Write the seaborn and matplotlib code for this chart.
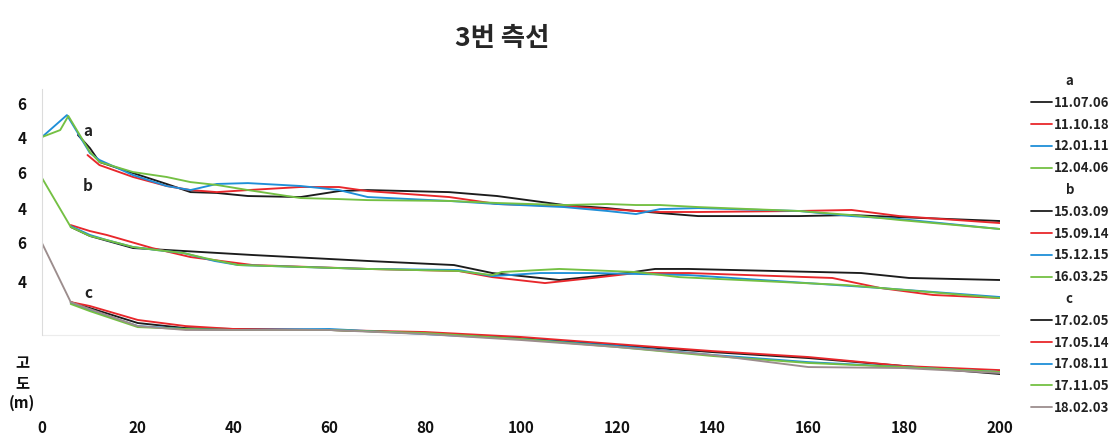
import numpy as np
import pandas as pd
import matplotlib
matplotlib.use("Agg")
import matplotlib.pyplot as plt
from matplotlib.lines import Line2D
import seaborn as sns

sns.set_theme(style="white")
plt.rcParams['font.family'] = ['Noto Sans CJK KR', 'DejaVu Sans']

title = "3번 측선"
y_label = "고\n도\n(m)"
x_ticks = [0, 20, 40, 60, 80, 100, 120, 140, 160, 180, 200]

# ---- group a (elevation, m) ----
a_names = ["11.07.06", "11.10.18", "12.01.11", "12.04.06"]
a_x = [
    [7.5, 10, 12, 19, 26, 31, 36.5, 43, 54, 62, 68, 85, 95, 109, 118, 124, 129, 137, 158, 169, 179, 200],
    [9.5, 12, 19, 26, 31, 36.5, 43, 54, 62, 68, 85, 95, 109, 118, 124, 129, 137, 158, 169, 179, 200],
    [0, 5.2, 10, 12, 19, 26, 31, 36.5, 43, 54, 62, 68, 85, 95, 109, 118, 124, 129, 137, 158, 169, 179, 200],
    [0, 3.8, 5.5, 10, 12, 19, 26, 31, 36.5, 43, 54, 62, 68, 85, 95, 109, 118, 124, 129, 137, 158, 169, 179, 200],
]
a_y = [
    [4.12, 3.35, 2.53, 1.88, 1.24, 0.76, 0.71, 0.53, 0.47, 0.82, 0.88, 0.76, 0.53, 0.00, -0.18, -0.35, -0.47, -0.65, -0.65, -0.59, -0.71, -0.94],
    [2.94, 2.35, 1.65, 1.12, 0.88, 0.76, 0.88, 1.06, 1.06, 0.82, 0.47, 0.06, -0.06, -0.24, -0.35, -0.41, -0.41, -0.35, -0.29, -0.65, -1.06],
    [4.00, 5.29, 3.06, 2.65, 1.76, 1.12, 0.88, 1.24, 1.29, 1.12, 0.88, 0.47, 0.24, 0.06, -0.12, -0.35, -0.53, -0.24, -0.18, -0.35, -0.65, -0.82, -1.41],
    [4.00, 4.41, 5.24, 3.12, 2.53, 1.94, 1.65, 1.35, 1.18, 0.88, 0.41, 0.35, 0.29, 0.24, 0.12, 0.00, 0.06, 0.00, 0.00, -0.12, -0.35, -0.59, -0.88, -1.41],
]

# ---- group b ----
b_names = ["15.03.09", "15.09.14", "15.12.15", "16.03.25"]
b_x = [
    [6, 10, 19, 44, 68, 86, 94, 108, 122, 128, 135, 171, 181, 200],
    [6, 10, 13.5, 23, 31, 44, 68, 87, 94, 105, 115, 124, 135, 165, 175, 186, 200],
    [6, 10, 13.5, 19, 24, 29.5, 36, 41, 68, 87, 94, 104, 115, 135, 175, 200],
    [0, 6, 10, 13.5, 19, 24, 29.5, 34, 41, 68, 87, 94, 96, 108, 124, 133, 168, 200],
]
b_y = [
    [2.77, 2.24, 1.53, 1.12, 0.77, 0.53, 0.06, -0.35, 0.06, 0.30, 0.30, 0.06, -0.23, -0.35],
    [2.88, 2.53, 2.30, 1.53, 1.00, 0.53, 0.30, 0.18, -0.18, -0.53, -0.23, 0.06, 0.06, -0.23, -0.82, -1.23, -1.41],
    [2.82, 2.30, 2.00, 1.59, 1.41, 1.24, 0.77, 0.53, 0.30, 0.24, -0.12, 0.06, 0.06, -0.06, -0.82, -1.35],
    [5.65, 2.77, 2.24, 2.00, 1.59, 1.41, 1.24, 0.94, 0.53, 0.30, 0.18, -0.06, 0.12, 0.30, 0.12, -0.18, -0.65, -1.41],
]

# ---- group c ----
c_names = ["17.02.05", "17.05.14", "17.08.11", "17.11.05", "18.02.03"]
c_x = [
    [6, 10, 20, 30, 40, 60, 80, 100, 120, 140, 160, 180, 200],
    [6, 10, 20, 30, 40, 60, 80, 100, 120, 140, 160, 180, 200],
    [6, 10, 20, 30, 40, 60, 80, 100, 120, 140, 160, 180, 200],
    [6, 10, 20, 30, 40, 60, 80, 100, 120, 140, 160, 180, 200],
    [0, 6, 10, 20, 30, 40, 60, 80, 100, 120, 140, 160, 180, 200],
]
c_y = [
    [2.49, 2.14, 1.26, 0.96, 0.91, 0.85, 0.67, 0.38, -0.04, -0.45, -0.80, -1.27, -1.74],
    [2.49, 2.26, 1.44, 1.08, 0.91, 0.85, 0.73, 0.44, 0.02, -0.39, -0.74, -1.27, -1.51],
    [2.44, 2.02, 1.08, 0.91, 0.85, 0.91, 0.61, 0.32, -0.09, -0.62, -1.04, -1.33, -1.62],
    [2.38, 1.96, 1.02, 0.91, 0.85, 0.85, 0.67, 0.32, -0.15, -0.68, -1.09, -1.33, -1.62],
    [5.96, 2.49, 2.08, 1.08, 0.85, 0.85, 0.85, 0.61, 0.26, -0.15, -0.62, -1.33, -1.39, -1.68],
]

group_labels = ["a", "b", "c"]
group_offsets = [0.0, -4.06, -8.2]   # vertical stacking of the three profiles
colors4 = ["#1c1c1c", "#e8272b", "#1f8fd8", "#74c043"]
colors5 = ["#1c1c1c", "#e8272b", "#1f8fd8", "#74c043", "#9c8d8d"]

fig = plt.figure(figsize=(11.2, 4.43), dpi=100)
ax = fig.add_axes([42 / 1120, 1 - 415 / 443, 958 / 1120, 330 / 443])

groups = [(a_names, a_x, a_y, colors4), (b_names, b_x, b_y, colors4), (c_names, c_x, c_y, colors5)]
handles, labels = [], []
for gi, (names, xs, ys, cols) in enumerate(groups):
    handles.append(Line2D([], [], color="none"))
    labels.append("    " + group_labels[gi])
    for name, xv, yv, col in zip(names, xs, ys, cols):
        df = pd.DataFrame({"x": xv, "y": np.array(yv) + group_offsets[gi]})
        sns.lineplot(data=df, x="x", y="y", color=col, linewidth=1.35, ax=ax,
                     estimator=None, sort=False)
        handles.append(Line2D([], [], color=col, linewidth=1.3))
        labels.append(name)

# group letters inside the plot
for lab, (xx, yy) in zip(group_labels, [(9.6, 4.35), (9.6, 1.12), (9.6, -5.18)]):
    ax.text(xx, yy, lab, fontsize=11, fontweight="bold", ha="center", va="center", color="#222222")

ax.set_xlim(0, 200)
ax.set_ylim(-12.35, 7.06)
ax.set_xticks(x_ticks)
ax.set_xticklabels([str(t) for t in x_ticks], fontsize=11, fontweight="bold")
ytick_pos = [6, 4, 6 + group_offsets[1], 4 + group_offsets[1] - 0.12,
             6 + group_offsets[2] + 0.02, 4 + group_offsets[2] - 0.27]
ax.set_yticks(ytick_pos)
ax.set_yticklabels(["6", "4", "6", "4", "6", "4"], fontsize=11, fontweight="bold")
ax.tick_params(axis="x", length=0, pad=3.5, colors="#111111")
ax.tick_params(axis="y", length=0, pad=11, colors="#111111")
ax.set_xlabel("")
ax.set_ylabel("")
for s in ["top", "right", "bottom"]:
    ax.spines[s].set_visible(False)
ax.spines["left"].set_color("#dcdcdc")
ax.spines["left"].set_linewidth(0.8)
ax.spines["left"].set_bounds(-7.65, 6.8)
ax.axhline(-7.65, color="#ececec", linewidth=0.8, zorder=0)

fig.text(502 / 1120, 1 - 38 / 443, title, fontsize=19, fontweight="bold", ha="center", va="center")
fig.text(22 / 1120, 1 - 383 / 443, y_label, fontsize=11, fontweight="bold", ha="center", va="center",
         linespacing=1.3, color="#111111")

leg = ax.legend(handles, labels, loc="upper left", bbox_to_anchor=(1.027, 1.049), frameon=False,
                fontsize=9.5, handlelength=1.6, handletextpad=0.1, labelspacing=0.59,
                borderaxespad=0)
for t in leg.get_texts():
    t.set_fontweight("bold")
    t.set_color("#222222")

fig.savefig("out.png", dpi=100)
